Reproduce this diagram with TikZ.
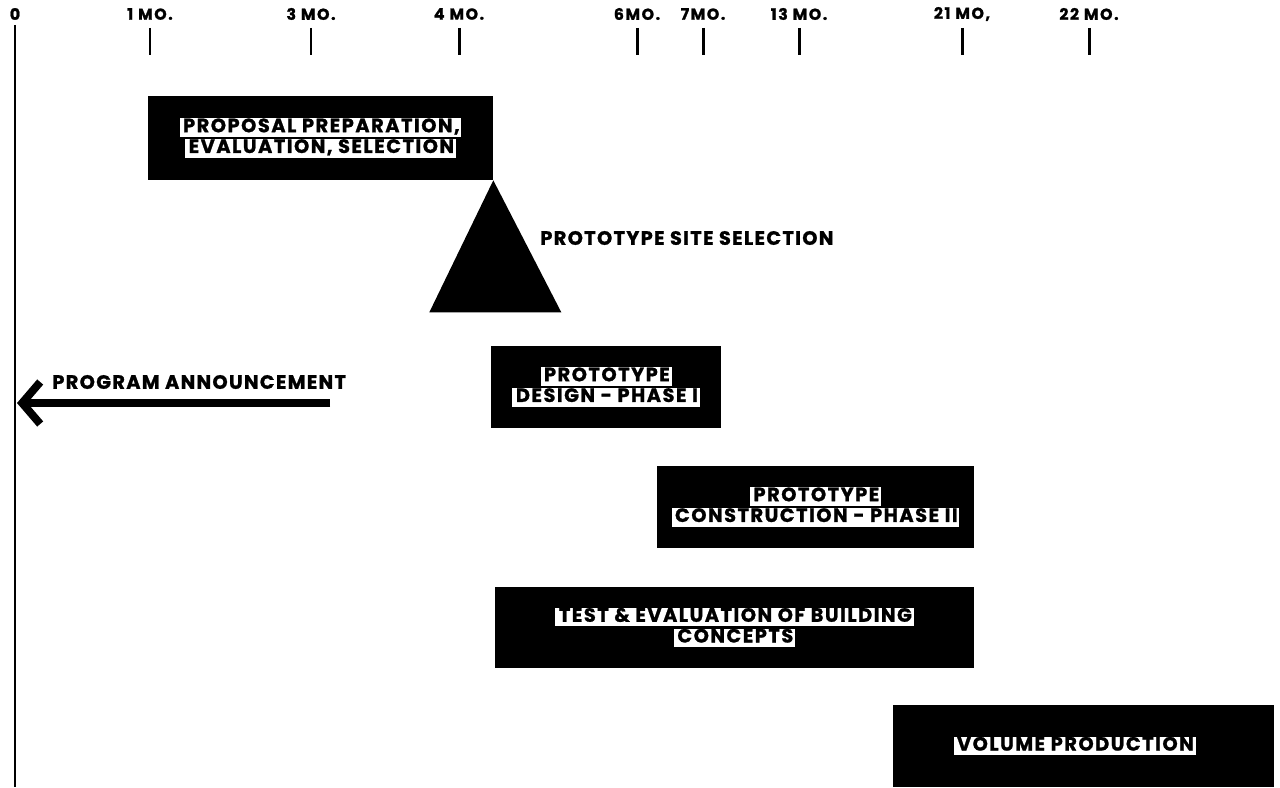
\documentclass[tikz,border=0pt]{standalone}
\usepackage{fontspec}
\setmainfont{Poppins}[BoldFeatures={FakeBold=1.2}]
\usetikzlibrary{arrows.meta,positioning}
\tikzstyle{phase}=[fill=black,inner sep=0pt,align=center,font=\bfseries\fontsize{11}{11.8}\selectfont\addfontfeature{LetterSpace=8}]
\tikzstyle{month}=[font=\bfseries\fontsize{9}{10}\selectfont\addfontfeature{LetterSpace=10},inner sep=0pt]
\tikzstyle{tickmark}=[line width=1.7pt]
\tikzstyle{event}=[font=\bfseries\fontsize{11}{12}\selectfont\addfontfeature{LetterSpace=7},inner sep=0pt,anchor=west]
\newcommand{\wl}[1]{{\setlength{\fboxsep}{0pt}\colorbox{white}{\rule[-2.6pt]{0pt}{9.2pt}\hspace{2pt}#1\hspace{1pt}}}}

\begin{document}
\begin{tikzpicture}[x=0.02cm,y=-0.02cm]
\useasboundingbox (0,0) rectangle (1280,787);

% time scale
\draw[line width=1.2pt] (15,25) -- (15,787);
\node[month] (m0) at (15,14) {0};
\draw[tickmark] (15,28) -- (15,55);
\foreach \x/\t [count=\i] in {150/1 MO., 311/3 MO., 459/4 MO., 637/6MO., 703/7MO., 799/13 MO., 962/{21 MO,}, 1089/22 MO.}
{
  \node[month] (m\i) at (\x,14) {\t};
  \draw[tickmark] (\x,28) -- (\x,55);
}

\node[phase,minimum width=6.9cm,minimum height=1.68cm] (prop) at (320.5,138)
  {\wl{PROPOSAL PREPARATION,}\\\wl{EVALUATION, SELECTION}};
\fill (prop.south east) -- ++(-64,132) -- ++(132,0) -- cycle;
\node[event] (site) at (540,238) {PROTOTYPE SITE SELECTION};

\coordinate (ann0) at (17,403);
\coordinate (annEnd) at (330,403);
\draw[line width=4.5pt,-{Straight Barb[length=3.6mm,width=8.4mm,line width=4.5pt]}] (annEnd) -- (ann0);
\node[event] (ann) at (52,382) {PROGRAM ANNOUNCEMENT};

\node[phase,minimum width=4.6cm,minimum height=1.64cm] (des) at (606,387)
  {\wl{PROTOTYPE}\\\wl{DESIGN - PHASE I}};
\node[phase,minimum width=6.34cm,minimum height=1.64cm] (con) at (815.5,507)
  {\wl{PROTOTYPE}\\\wl{CONSTRUCTION - PHASE II}};
\node[phase,minimum width=9.58cm,minimum height=1.62cm] (test) at (734.5,627.5)
  {\wl{TEST \& EVALUATION OF BUILDING}\\\wl{CONCEPTS}};
\node[phase,minimum width=7.62cm,minimum height=1.64cm] (vol) at (1083.5,746)
  {\wl{VOLUME PRODUCTION}\kern0.36cm};

\end{tikzpicture}
\end{document}
